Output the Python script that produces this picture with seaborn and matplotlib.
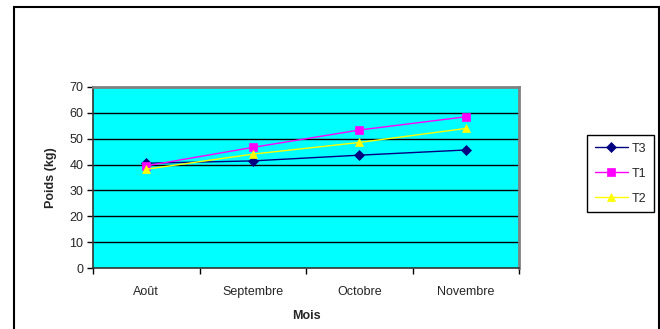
import matplotlib
matplotlib.use("Agg")
import matplotlib.pyplot as plt
from matplotlib.patches import Rectangle
import pandas as pd
import seaborn as sns

mois = ["Août", "Septembre", "Octobre", "Novembre"]
t3 = [40.5, 41.4, 43.6, 45.6]
t1 = [39.5, 46.6, 53.3, 58.4]
t2 = [38.2, 44.0, 48.5, 53.9]
series = ["T3", "T1", "T2"]
colors = {"T3": "#000080", "T1": "#FF00FF", "T2": "#FFFF00"}
markers = {"T3": "D", "T1": "s", "T2": "^"}

df = pd.DataFrame({
    "Mois": mois * 3,
    "Poids": t3 + t1 + t2,
    "Serie": ["T3"] * 4 + ["T1"] * 4 + ["T2"] * 4,
})

sns.set_style("white")
plt.rcParams["font.family"] = ["Liberation Sans", "DejaVu Sans"]
fs = 9

fig = plt.figure(figsize=(6.6, 3.29), dpi=100)
ax = fig.add_axes([0.1409, 0.1845, 0.6455, 0.552])
ax.set_facecolor("#00FFFF")

sns.lineplot(data=df, x="Mois", y="Poids", hue="Serie", style="Serie",
             hue_order=series, style_order=series, palette=colors,
             markers=markers, dashes=False, markersize=5.5, linewidth=1,
             markeredgewidth=0.5, ax=ax, sort=False)
for ln in ax.lines:
    ln.set_markeredgecolor(ln.get_color())

ax.set_xlim(-0.5, 3.5)
ax.set_ylim(0, 70)
ax.set_yticks(range(0, 71, 10))
for y in range(10, 70, 10):
    ax.axhline(y, color="black", lw=1, zorder=0.5)

ax.set_xticks([0, 1, 2, 3])
ax.set_xticklabels(mois)
ax.set_xticks([-0.5, 0.5, 1.5, 2.5, 3.5], minor=True)
ax.tick_params(axis="x", which="major", length=0, pad=12.5, labelsize=fs)
ax.tick_params(axis="x", which="minor", length=4, width=1, color="black", direction="out")
ax.tick_params(axis="y", length=4, width=1, color="black", direction="out", labelsize=fs, pad=3)
ax.xaxis.set_ticks_position("bottom")
ax.yaxis.set_ticks_position("left")

for s in ["left", "bottom"]:
    ax.spines[s].set_color("#333333")
    ax.spines[s].set_linewidth(1.2)
for s in ["top", "right"]:
    ax.spines[s].set_color("#808080")
    ax.spines[s].set_linewidth(2)

ax.set_xlabel("Mois", fontweight="bold", fontsize=fs, labelpad=9)
ax.set_ylabel("Poids (kg)", fontweight="bold", fontsize=fs, labelpad=9)

handles, labels = ax.get_legend_handles_labels()
leg = ax.legend(handles, labels, loc="upper left",
                bbox_to_anchor=(587 / 660, 1 - 135 / 329),
                bbox_transform=fig.transFigure, fancybox=False,
                edgecolor="black", framealpha=1, fontsize=fs,
                handlelength=2.7, borderaxespad=0, labelspacing=1.05,
                borderpad=0.6, handletextpad=0.3)
leg.get_frame().set_linewidth(1)

fig.patches.append(Rectangle((13.5 / 660, -0.1), (659 - 13.5) / 660, 1.1 - 6.5 / 329,
                             transform=fig.transFigure, fill=False,
                             edgecolor="black", lw=1.5))

fig.savefig("out.png", dpi=100)
